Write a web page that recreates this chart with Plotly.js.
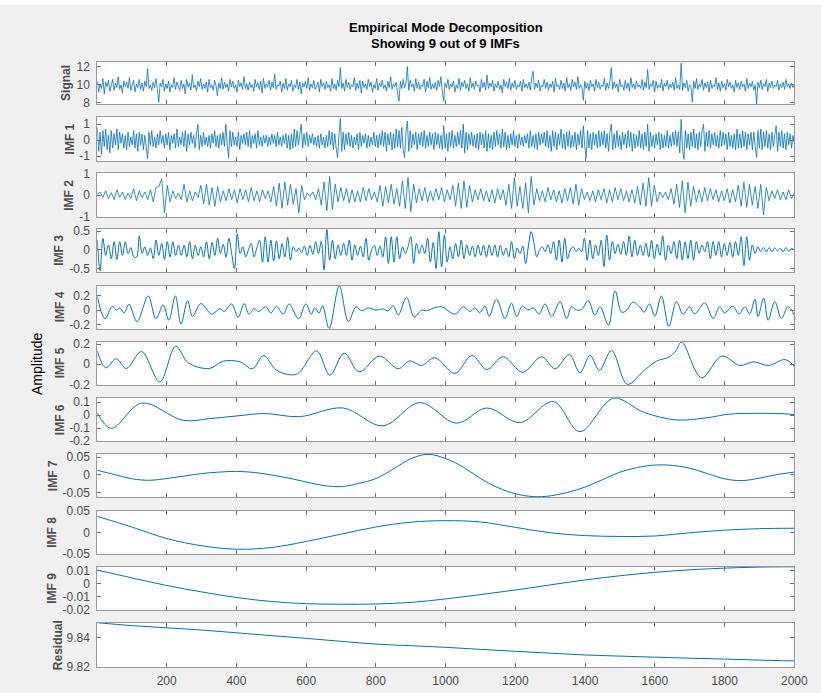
<!DOCTYPE html>
<html><head><meta charset="utf-8">
<script src="https://cdn.plot.ly/plotly-3.0.1.min.js"></script>
<style>html,body{margin:0;padding:0;background:#f0f0f0;}#chart{width:821px;height:693px;}</style>
</head><body><div id="chart"></div>
<script>
// ---------------- DATA ----------------
const nSamples = 2000;
const xTicks = [200, 400, 600, 800, 1000, 1200, 1400, 1600, 1800, 2000];
const panelNames = ['Signal', 'IMF 1', 'IMF 2', 'IMF 3', 'IMF 4', 'IMF 5', 'IMF 6', 'IMF 7', 'IMF 8', 'IMF 9', 'Residual'];

const signalValues = [
10.4,9.2,10.1,9.6,10.7,9.0,10.3,9.8,10.5,9.3,
9.9,10.6,9.4,10.2,9.7,10.9,9.5,10.0,9.1,10.4,
9.8,10.3,9.6,10.8,9.4,9.9,10.5,9.2,10.1,9.7,
10.6,9.5,10.2,9.3,10.4,9.8,11.8,9.6,10.0,9.4,
10.3,9.7,10.7,9.5,8.1,10.2,9.8,10.6,9.3,10.1,
9.6,10.4,9.2,10.0,9.7,10.8,9.5,10.3,9.9,9.4,
10.5,9.6,10.1,9.0,10.6,9.8,10.2,9.4,11.1,9.7,
10.0,9.3,10.4,9.8,10.7,9.5,10.1,9.6,10.3,9.2,
10.6,9.7,10.0,9.4,10.5,9.9,8.8,10.2,9.6,10.8,
9.5,10.3,9.7,10.1,9.3,10.6,9.8,10.4,9.6,10.0,
9.2,10.5,9.8,10.2,9.5,10.9,9.6,10.1,9.4,10.3,
9.7,10.0,9.3,10.6,9.8,10.2,9.5,10.4,9.1,10.7,
9.6,10.1,9.8,10.5,9.4,10.3,9.7,11.2,9.5,10.0,
9.9,10.4,9.2,10.2,9.6,10.7,9.4,10.1,9.8,10.5,
9.3,10.0,9.7,10.6,9.5,10.3,9.0,10.2,9.8,10.4,
9.6,10.8,9.4,10.1,9.7,10.5,9.5,9.9,10.3,9.2,
10.6,9.8,10.2,9.5,10.4,9.7,10.0,9.3,10.7,9.6,
10.1,9.4,10.5,9.8,11.9,9.6,10.2,9.3,10.6,9.7,
10.3,9.5,10.0,9.8,10.8,9.4,10.2,9.6,10.5,9.1,
10.4,9.7,10.1,9.5,10.6,9.8,10.3,9.2,10.0,9.6,
10.7,9.4,10.2,9.8,10.5,9.6,10.0,9.3,10.4,9.7,
10.9,9.5,10.1,9.8,10.3,9.0,8.2,10.4,9.6,10.6,
9.7,10.2,12.0,9.4,10.5,9.8,10.1,9.3,10.7,9.6,
10.3,9.5,10.0,9.8,10.6,9.2,10.4,9.7,10.8,9.5,
10.1,9.6,10.3,9.4,10.5,9.8,10.9,9.3,8.2,10.2,
9.7,10.6,9.5,10.1,9.8,10.4,9.2,10.0,9.6,10.7,
9.4,10.3,9.8,10.5,9.6,10.1,9.3,10.8,9.7,10.2,
9.5,10.4,9.9,10.0,9.2,10.6,9.7,10.3,9.4,11.1,
9.6,10.2,9.8,10.5,9.3,10.1,9.7,10.4,9.5,10.0,
9.1,10.6,9.8,10.3,9.6,10.7,9.4,10.2,9.7,10.5,
9.5,10.0,9.8,10.4,9.3,10.6,9.7,10.1,9.6,10.3,
9.4,10.8,11.5,9.5,10.2,9.7,10.5,9.3,10.0,9.8,
10.6,9.6,10.3,9.4,10.1,9.7,10.4,9.2,10.7,9.8,
10.0,9.5,10.5,9.6,10.2,9.3,10.8,9.7,10.1,9.4,
10.6,9.8,10.3,9.5,10.9,9.6,10.0,9.7,8.3,10.4,
9.6,10.2,9.4,10.5,9.8,10.1,9.3,10.6,9.7,10.3,
9.5,10.0,9.8,10.7,9.4,10.2,9.6,10.4,11.9,9.5,
10.3,9.7,10.1,9.2,10.6,9.8,10.0,9.4,10.5,9.6,
10.2,9.3,10.8,9.7,10.1,9.5,10.4,9.8,10.0,9.6,
10.6,9.4,10.3,9.7,11.7,9.5,10.1,9.8,10.5,9.2,
10.4,9.6,10.0,9.7,10.6,9.3,10.2,9.8,10.5,9.5,
10.1,9.7,10.3,9.4,10.8,9.6,10.0,9.5,12.4,9.4,
10.2,9.7,10.5,9.3,10.0,9.8,8.1,10.4,9.6,10.7,
9.5,10.1,9.8,10.6,9.4,10.2,9.7,10.3,9.2,10.5,
9.6,10.0,9.8,10.8,9.5,10.2,9.3,10.4,9.7,10.1,
9.4,10.6,9.8,10.3,9.6,10.0,9.2,10.5,9.7,10.2,
9.5,10.4,9.8,10.1,9.3,10.7,9.6,10.2,9.8,10.4,
9.4,10.0,7.9,10.3,9.7,10.5,9.5,10.1,9.8,10.6,
9.3,10.2,9.7,10.4,9.6,10.0,9.8,10.5,9.4,10.1,
9.7,10.3,9.5,10.6,9.8,10.1,9.6,10.2,9.7,10.0];

const imf1Values = [
0.8,-0.7,0.5,-0.9,0.6,-0.4,0.7,-0.6,0.3,-0.8,
0.6,-0.5,0.4,-0.3,0.7,-0.6,0.5,-0.2,0.4,-0.5,
0.3,-0.6,0.5,-0.4,0.2,-0.3,0.6,-0.5,0.4,-0.7,
0.5,-0.3,0.4,-0.6,0.3,-0.4,-1.15,0.5,-0.3,0.6,
-0.4,0.2,-0.5,0.4,-0.3,0.6,-0.2,0.3,-0.5,0.4,
-0.3,0.5,-0.6,0.3,-0.2,0.4,-0.5,0.7,-0.4,0.2,
-0.3,0.5,-0.4,0.6,-0.7,0.4,-0.3,0.5,-0.2,0.3,
-0.5,0.4,1.0,-0.6,0.3,-0.4,0.5,-0.3,0.2,-0.4,
0.3,-0.5,0.4,-0.2,0.6,-0.4,0.3,-0.5,0.4,-0.3,
0.5,-0.4,1.0,-0.3,-1.1,0.6,-0.4,0.5,-0.3,0.2,
-0.4,0.5,-0.6,0.3,-0.2,0.4,-0.3,0.5,-0.4,0.6,
-0.5,0.3,-0.2,0.4,-0.5,0.6,-0.3,0.2,-0.4,0.3,
-0.2,0.3,-0.4,0.2,-0.3,0.4,-0.2,0.3,-0.4,0.5,
-0.3,0.2,-0.4,0.3,-0.2,0.4,-0.5,0.3,-0.6,0.4,
-0.5,0.7,-0.4,0.6,-0.3,0.4,1.0,-0.5,0.4,-0.3,
0.5,-0.4,0.3,-0.2,0.4,-0.3,0.2,-0.4,0.3,-0.5,
0.4,-0.3,0.2,-0.5,0.3,-0.4,0.6,-0.3,0.5,-0.6,
0.4,-0.5,-1.1,0.3,1.35,-0.7,0.5,-0.6,0.4,-0.3,
0.5,-0.4,0.3,-0.5,0.2,-0.3,0.4,-0.6,0.5,-0.4,
0.3,-0.2,0.4,-0.5,0.3,-0.4,0.2,-0.3,0.5,-0.4,
0.3,-0.5,0.4,-0.3,0.6,-0.4,0.5,-0.7,0.4,-0.3,
0.5,-0.6,0.4,-0.5,0.7,-0.4,0.6,-0.5,0.8,-0.6,
-1.1,0.5,1.2,-0.7,0.6,-0.5,0.4,-0.3,0.5,-0.6,
0.4,-0.3,0.5,-0.4,0.6,-0.5,0.3,-0.4,0.5,-0.3,
0.4,-0.6,0.5,-0.3,0.4,-0.5,0.3,-0.6,0.9,-0.5,
0.4,-0.7,0.5,-0.4,0.6,-0.5,0.3,-0.4,0.5,-0.3,
0.6,-0.5,1.0,-0.8,0.5,-0.6,0.4,-0.3,0.5,-0.4,
0.3,-0.5,0.4,-0.6,0.5,-0.3,0.4,-0.5,0.6,-0.7,
0.4,-0.5,0.3,-0.6,0.5,-0.4,0.6,-0.3,0.4,-0.5,
0.7,-0.4,0.5,-0.6,0.3,-0.5,0.4,-0.3,0.6,-0.4,
0.3,-0.5,0.4,-0.3,0.2,-0.4,0.3,-0.2,0.4,-0.5,
0.6,-0.4,0.3,-0.5,0.4,-0.6,0.5,-0.3,0.4,-0.2,
0.5,-0.4,0.6,-0.5,0.3,-0.7,0.6,-0.4,0.5,-0.6,
0.4,-0.3,0.7,-0.5,0.4,-0.6,0.5,-0.4,0.6,-0.5,
0.3,-0.4,0.5,-0.6,0.4,-0.3,0.6,-0.5,0.9,-0.4,
-1.1,0.6,-0.5,0.4,-0.6,0.5,-0.3,0.4,-0.5,0.6,
-0.4,0.5,-0.3,0.6,-0.5,0.4,-0.7,0.5,1.0,-0.6,
0.4,-0.5,0.6,-0.4,0.3,-0.6,0.5,-0.3,0.4,-0.5,
0.6,-0.4,0.5,-0.7,0.4,-0.5,0.3,-0.4,0.6,-0.5,
0.4,-0.6,0.5,-0.4,1.0,-0.7,0.5,-0.4,0.3,-0.5,
0.4,-0.3,0.5,-0.6,0.4,-0.5,0.3,-0.4,0.6,-0.5,
0.3,-0.4,0.5,-0.3,0.6,-0.4,0.5,-0.8,1.3,-0.6,
-1.2,0.6,-0.5,0.4,-0.6,0.5,-0.4,0.7,-0.5,0.4,
-0.6,0.5,-0.4,0.6,1.0,-0.7,0.5,-0.4,0.6,-0.5,
0.4,-0.3,0.5,-0.4,0.3,-0.5,0.6,-0.4,0.5,-0.3,
0.4,-0.6,0.5,-0.4,0.3,-0.5,0.4,-0.6,0.7,-0.5,
0.4,-0.5,0.6,-0.4,0.5,-0.6,0.4,-0.3,0.5,-0.6,
0.5,-0.4,-1.1,0.6,-0.5,0.7,-0.6,0.5,-0.4,0.6,
-0.5,0.4,-0.6,0.5,-0.4,0.3,0.9,-0.7,0.5,-0.4,
0.6,-0.5,0.4,-0.6,0.5,-0.3,0.4,-0.5,0.3,-0.2];

const imf2Values = [
0.05,0.15,-0.1,0.2,-0.15,0.12,-0.2,0.25,-0.1,0.15,
-0.2,0.1,-0.15,0.3,-0.25,0.2,-0.1,0.15,-0.2,0.25,
-0.3,0.35,0.4,0.75,-0.8,0.45,-0.3,0.2,-0.15,0.1,
-0.2,0.5,-0.3,0.2,-0.25,0.15,-0.1,0.45,-0.4,0.5,
-0.45,0.35,-0.5,0.4,-0.3,0.2,-0.25,0.3,-0.2,0.25,
-0.35,0.3,-0.2,0.25,-0.3,0.35,-0.25,0.2,-0.3,0.25,
-0.15,0.2,-0.3,0.4,-0.5,0.55,-0.6,0.6,-0.45,0.5,
-0.4,0.3,-0.8,0.45,-0.2,0.1,-0.05,0.15,-0.2,0.3,
-0.45,0.6,-0.7,0.85,-0.65,0.5,-0.3,0.35,-0.25,0.3,
-0.35,0.25,-0.3,0.2,-0.3,0.35,-0.25,0.3,-0.2,0.15,
-0.3,0.45,-0.5,0.4,-0.35,0.5,-0.4,0.3,-0.5,0.65,
-0.6,0.8,-0.75,0.5,-0.35,0.3,-0.25,0.35,-0.3,0.2,
-0.25,0.3,-0.2,0.35,-0.3,0.25,-0.2,0.45,-0.5,0.55,
-0.6,0.65,-0.55,0.45,-0.3,0.25,-0.2,0.3,-0.25,0.2,
-0.3,0.25,-0.35,0.3,-0.2,0.25,-0.45,0.5,-0.6,0.8,
-0.5,0.4,-0.6,0.55,-0.8,0.85,-0.45,0.3,-0.25,0.2,
-0.3,0.35,-0.2,0.25,-0.3,0.2,-0.35,0.3,-0.25,0.35,
-0.4,0.5,-0.45,0.3,-0.2,0.15,-0.25,0.2,-0.3,0.25,
-0.2,0.3,-0.35,0.25,-0.3,0.35,-0.2,0.3,-0.25,0.2,
-0.3,0.25,-0.35,0.4,-0.45,0.55,-0.5,0.8,-0.5,0.45,
-0.3,0.15,-0.1,0.15,-0.2,0.3,-0.4,0.5,-0.55,0.65,
-0.8,0.6,-0.5,0.4,-0.3,0.25,-0.3,0.35,-0.25,0.3,
-0.2,0.25,-0.3,0.2,-0.25,0.3,-0.35,0.25,-0.3,0.45,
-0.5,0.6,-0.55,0.5,-0.45,0.4,-0.6,0.5,-0.9,0.35,
-0.25,0.2,-0.15,0.25,-0.2,0.15,-0.2,0.25,-0.15,0.1];

const imf3Values = [
0.26,-0.57,0.31,-0.15,0.13,-0.24,0.22,-0.26,0.22,-0.15,0.22,-0.1,0.06,
-0.19,-0.2,0.37,-0.1,0.08,-0.15,0.05,-0.24,0.26,-0.15,0.17,-0.26,
0.22,-0.19,0.22,-0.15,0.13,-0.15,0.12,-0.19,0.22,-0.24,0.12,-0.15,0.08,
-0.19,0.22,-0.24,0.2,-0.15,0.31,-0.1,0.15,-0.2,0.31,-0.1,-0.51,
0.43,-0.1,0.08,-0.19,0.0,0.17,-0.19,0.05,0.26,-0.33,0.35,-0.33,0.26,
-0.3,0.24,-0.24,0.17,-0.19,0.34,-0.28,0.08,-0.05,0.04,-0.08,0.1,
-0.15,0.12,-0.12,0.22,-0.1,0.22,-0.54,0.55,-0.28,0.26,-0.24,0.13,-0.15,
0.17,-0.15,0.26,-0.28,0.13,-0.15,0.1,-0.19,0.31,-0.28,0.0,0.12,
-0.15,0.1,-0.19,0.35,-0.37,0.35,-0.33,0.35,-0.24,0.08,-0.1,0.08,0.35,
-0.37,0.17,-0.1,0.13,-0.1,0.31,-0.33,0.2,-0.51,0.49,-0.46,0.4,
-0.33,0.08,-0.24,0.17,-0.19,0.26,-0.24,0.13,-0.15,0.1,-0.19,0.13,-0.15,
0.12,-0.19,0.13,-0.15,0.13,-0.19,0.12,-0.15,0.05,-0.19,0.22,-0.24,
0.05,-0.1,0.1,-0.37,0.1,0.49,0.17,-0.19,0.0,0.08,-0.05,0.13,-0.1,
0.22,-0.28,0.26,-0.33,0.31,-0.24,0.0,0.08,-0.05,0.04,-0.05,0.31,
-0.28,0.26,-0.24,0.13,-0.15,0.26,-0.45,0.4,-0.28,0.22,-0.1,0.15,-0.12,
0.22,-0.15,0.37,-0.19,0.26,-0.15,0.13,-0.15,0.17,-0.19,0.26,-0.24,
0.15,-0.15,0.37,-0.28,0.13,-0.1,0.22,-0.24,0.26,-0.28,0.22,-0.24,0.26,
-0.28,0.22,-0.1,0.13,-0.05,0.22,-0.24,0.22,-0.15,0.22,-0.19,0.17,
-0.15,0.2,-0.2,0.22,-0.15,0.35,-0.42,0.35,-0.28,0.13,-0.1,0.08,-0.05,
0.06,-0.06,0.06,-0.05,0.05,-0.03,0.04,-0.05,0.06,-0.04,0.03,0.0];

const imf4Index = [1,23,44,56,66,78,92,115,147,169,190,206,225,241,260,274,298,329,353,365,386,405,422,436,451,464,484,499,
515,534,551,578,599,615,625,637,647,666,695,721,743,759,778,800,821,835,850,864,888,910,931,945,964,988,
1027,1051,1070,1084,1098,1113,1125,1146,1170,1189,1204,1220,1236,1251,1268,1285,1304,1328,1347,1361,1375,1390,1409,1428,1443,1467,1486,
1505,1520,1537,1557,1569,1585,1600,1619,1640,1662,1681,1700,1714,1743,1767,1786,1800,1824,1841,1858,1872,1887,1896,1912,1925,1944,1963,1982,2000];
const imf4Values = [0.19,-0.12,0.05,0.0,0.03,-0.04,0.08,-0.16,0.195,-0.12,0.07,-0.14,0.195,-0.195,0.13,-0.09,0.09,-0.055,0.02,-0.02,0.085,-0.1,0.09,-0.055,0.02,-0.02,0.045,-0.04,
0.05,-0.055,0.085,-0.12,0.085,-0.055,0.03,-0.04,0.06,-0.255,0.335,-0.16,0.045,-0.01,0.03,0.0,0.015,-0.01,0.06,-0.07,0.175,-0.095,0.0,-0.01,0.025,0.045,
-0.055,0.045,-0.02,0.03,-0.035,0.055,-0.085,0.15,-0.115,0.095,-0.09,0.055,0.0,0.03,-0.055,0.085,-0.085,0.115,-0.115,0.045,0.0,0.01,0.13,-0.07,0.045,-0.21,0.265,
-0.03,0.0,0.11,0.04,-0.03,0.085,-0.085,0.195,-0.225,0.115,-0.055,0.045,-0.055,0.1,-0.115,0.045,-0.04,0.055,-0.055,0.045,-0.055,0.15,-0.09,0.165,-0.14,0.115,-0.115,0.045,-0.07];

const imf5Index = [1,25,56,84,128,180,226,262,323,362,410,446,478,515,572,630,668,709,752,810,864,897,931,969,1027,1075,1118,1165,1221,1275,1314,1355,1385,1414,1441,1476,1521,1567,1605,1640,1660,1677,1734,1792,1844,1883,1926,1974,2000];
const imf5Values = [0.13,-0.036,0.053,-0.043,0.125,-0.175,0.178,0.013,-0.043,0.03,0.023,-0.046,0.086,-0.06,-0.1,0.13,-0.11,0.11,-0.076,0.08,-0.046,0.033,-0.013,0.063,-0.092,0.086,-0.053,0.073,-0.08,0.073,-0.046,0.096,-0.086,0.086,-0.06,0.135,-0.2,-0.07,0.03,0.07,0.13,0.22,-0.135,0.08,-0.013,0.023,-0.013,0.046,-0.02];

const imf6Index = [1,41,128,247,330,406,482,581,706,820,926,1031,1118,1213,1309,1385,1481,1570,1663,1750,1816,1950,2000];
const imf6Values = [0.017,-0.103,0.093,-0.04,-0.025,-0.005,0.012,-0.012,0.055,-0.083,0.0975,-0.0625,0.055,-0.0575,0.105,-0.1275,0.13,0.02,-0.0375,-0.02,0.008,0.0125,0.005];

const imf7Values = [0.013,0.001,-0.011,-0.015,-0.010,-0.003,0.004,0.008,0.010,0.007,0.000,-0.009,-0.020,-0.030,-0.033,-0.024,-0.010,0.017,0.046,0.058,0.046,0.022,-0.010,-0.036,-0.053,-0.061,-0.059,-0.049,-0.034,-0.013,0.008,0.021,0.028,0.027,0.019,0.004,-0.011,-0.016,-0.009,0.001,0.008];
const imf8Values = [0.037,0.012,-0.0145,-0.031,-0.039,-0.035,-0.021,-0.004,0.0125,0.0235,0.027,0.024,0.0115,-0.001,-0.0075,-0.0095,-0.0085,-0.001,0.005,0.0085,0.0095];
const imf9Values = [0.0105,0.0045,-0.0013,-0.0062,-0.0105,-0.0135,-0.0152,-0.0156,-0.0154,-0.0142,-0.0115,-0.0082,-0.0047,-0.0008,0.0030,0.0062,0.0088,0.0107,0.0120,0.0128,0.0130];
const residualValues = [9.850,9.848,9.8465,9.845,9.8431,9.8412,9.8393,9.8373,9.8354,9.8343,9.8332,9.8318,9.8305,9.8292,9.828,9.8272,9.8265,9.8258,9.8252,9.8245,9.8239];

const yTickValues = [[8,10,12],[-1,0,1],[-1,0,1],[-0.5,0,0.5],[-0.2,0,0.2],[-0.2,0,0.2],[-0.2,-0.1,0,0.1],[-0.05,0,0.05],[-0.05,0,0.05],[-0.02,-0.01,0,0.01],[9.82,9.84]];
const yLimits = [[7.86,12.56],[-1.29,1.44],[-1,1],[-0.607,0.553],[-0.262,0.337],[-0.207,0.223],[-0.2,0.13],[-0.063,0.059],[-0.05,0.05],[-0.02,0.0131],[9.82,9.85]];

// ---------------- LAYOUT GEOMETRY (pixels) ----------------
const W = 821, H = 693;
const plotLeft = 97.3, plotRight = 794.3;
const panelTop = [61.7,117.2,173.3,229.3,285.7,341.7,398.3,454,510.7,566.7,622.7];
const panelBottom = [104.2,160.7,217.2,272.3,329,385,441,497.3,554,610,666.7];
const labelCenterX = [66,69.5,69.5,59,60,60,59.5,52.5,52.5,52.5,57.5];

function evenX(n){ const a=[]; for(let i=0;i<n;i++) a.push(1 + i*(nSamples-1)/(n-1)); return a; }

const series = [
  {x: evenX(signalValues.length), y: signalValues, smooth:false},
  {x: evenX(imf1Values.length), y: imf1Values, smooth:false},
  {x: evenX(imf2Values.length), y: imf2Values, smooth:false},
  {x: evenX(imf3Values.length), y: imf3Values, smooth:true},
  {x: imf4Index, y: imf4Values, smooth:true},
  {x: imf5Index, y: imf5Values, smooth:true},
  {x: imf6Index, y: imf6Values, smooth:true},
  {x: evenX(imf7Values.length), y: imf7Values, smooth:true},
  {x: evenX(imf8Values.length), y: imf8Values, smooth:true},
  {x: evenX(imf9Values.length), y: imf9Values, smooth:true},
  {x: evenX(residualValues.length), y: residualValues, smooth:true}
];

const lineColor = '#0072BD';
const traces = [];
const layout = {
  width: W, height: H,
  margin: {l:0, r:0, t:0, b:0},
  paper_bgcolor: '#f0f0f0',
  plot_bgcolor: '#ffffff',
  showlegend: false,
  font: {family: 'Liberation Sans, Arial, Helvetica, sans-serif', size: 12, color: '#4d4d4d'},
  annotations: [],
  shapes: [
    {type:'rect', xref:'paper', yref:'paper', x0:0, x1:1, y0:1-5/H, y1:1, fillcolor:'#ffffff', line:{width:0}, layer:'below'}
  ]
};

series.forEach((s, k) => {
  const sfx = k === 0 ? '' : String(k+1);
  traces.push({
    type: 'scatter', mode: 'lines', x: s.x, y: s.y,
    xaxis: 'x' + sfx, yaxis: 'y' + sfx,
    line: {color: lineColor, width: s.smooth ? 1 : 0.8, shape: s.smooth ? 'spline' : 'linear', smoothing: 1},
    hoverinfo: 'skip'
  });
  const axCommon = {
    showline: true, linecolor: '#9a9a9a', linewidth: 1, mirror: 'ticks',
    ticks: 'inside', ticklen: 4, tickwidth: 1, tickcolor: '#6e6e6e',
    showgrid: false, zeroline: false, fixedrange: true,
    tickfont: {size: 12, color: '#4d4d4d'}
  };
  layout['xaxis' + sfx] = Object.assign({}, axCommon, {
    domain: [plotLeft/W, plotRight/W],
    range: [1, nSamples],
    anchor: 'y' + sfx,
    tickmode: 'array', tickvals: xTicks, ticktext: xTicks.map(String),
    showticklabels: k === series.length - 1,
    ticklabelstandoff: 3
  });
  layout['yaxis' + sfx] = Object.assign({}, axCommon, {
    domain: [1 - panelBottom[k]/H, 1 - panelTop[k]/H],
    range: yLimits[k],
    anchor: 'x' + sfx,
    tickmode: 'array', tickvals: yTickValues[k], ticktext: yTickValues[k].map(String),
    ticklabelstandoff: 4
  });
  layout.annotations.push({
    xref: 'paper', yref: 'paper',
    x: labelCenterX[k]/W, y: 1 - (panelTop[k] + panelBottom[k])/2/H,
    xanchor: 'center', yanchor: 'middle',
    text: '<b>' + panelNames[k] + '</b>', textangle: -90, showarrow: false,
    font: {size: 12, color: '#4d4d4d'}
  });
});

layout.annotations.push(
  {xref:'paper', yref:'paper', x: 445.8/W, y: 1 - 27.5/H, xanchor:'center', yanchor:'middle', showarrow:false,
   text:'<b>Empirical Mode Decomposition</b>', font:{size:13, color:'#000000'}},
  {xref:'paper', yref:'paper', x: 445.8/W, y: 1 - 43.6/H, xanchor:'center', yanchor:'middle', showarrow:false,
   text:'<b>Showing 9 out of 9 IMFs</b>', font:{size:13, color:'#000000'}},
  {xref:'paper', yref:'paper', x: 37/W, y: 1 - 364/H, xanchor:'center', yanchor:'middle', showarrow:false,
   text:'Amplitude', textangle:-90, font:{size:14, color:'#000000'}}
);

Plotly.newPlot('chart', traces, layout, {staticPlot: true, displayModeBar: false});
</script>
</body></html>
